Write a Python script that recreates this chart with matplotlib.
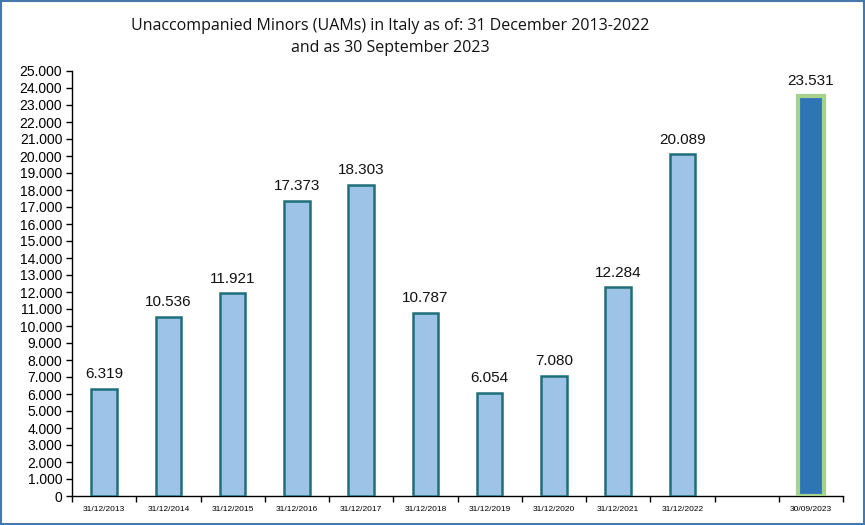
import matplotlib
matplotlib.use("Agg")
import matplotlib.pyplot as plt
from matplotlib.patches import Rectangle
from matplotlib.ticker import FuncFormatter, MultipleLocator
import numpy as np

categories = ["31/12/2013", "31/12/2014", "31/12/2015", "31/12/2016", "31/12/2017",
              "31/12/2018", "31/12/2019", "31/12/2020", "31/12/2021", "31/12/2022",
              "", "30/09/2023"]
values = [6319, 10536, 11921, 17373, 18303, 10787, 6054, 7080, 12284, 20089, None, 23531]
highlight = [False] * 11 + [True]
title = "Unaccompanied Minors (UAMs) in Italy as of: 31 December 2013-2022\nand as 30 September 2023"

def fmt_it(v, pos=None):
    return f"{int(round(v)):,}".replace(",", ".")

fig = plt.figure(figsize=(8.65, 5.25), dpi=100)
ax = fig.add_axes([72/865, 1-496/525, (843-72)/865, (496-71)/525])

x = np.arange(len(categories))
for xi, v, h in zip(x, values, highlight):
    if v is None:
        continue
    if h:
        ax.bar(xi, v, width=0.40, color="#2e75b6", edgecolor="#a9d18e", linewidth=3, zorder=3)
    else:
        ax.bar(xi, v, width=0.40, color="#9dc3e6", edgecolor="#1f6e78", linewidth=1.8, zorder=3)
    ax.text(xi, v + 450, fmt_it(v), ha="center", va="bottom", fontsize=11,
            family="Liberation Sans", color="#111111")

ax.set_xlim(-0.5, len(categories) - 0.5)
ax.set_ylim(0, 25000)
ax.yaxis.set_major_locator(MultipleLocator(1000))
ax.yaxis.set_major_formatter(FuncFormatter(fmt_it))
ax.set_xticks(x)
ax.set_xticklabels(categories, fontsize=6, family="Liberation Sans")
ax.tick_params(axis="x", length=0, pad=7)
ax.set_xticks(np.arange(-0.5, len(categories)), minor=True)
ax.tick_params(axis="x", which="minor", length=4, direction="out", width=1)
ax.tick_params(axis="y", length=4, direction="out", width=1, labelsize=10, pad=3)
for lab in ax.get_yticklabels():
    lab.set_family("Liberation Sans")
for s in ["top", "right"]:
    ax.spines[s].set_visible(False)
ax.spines["left"].set_linewidth(1)
ax.spines["bottom"].set_linewidth(1)

fig.text(390/865, 1-37/525, title, ha="center", va="center", fontsize=11.5,
         family="Open Sans", color="#111111", linespacing=1.45)

fig.patches.append(Rectangle((0.001, 0.001), 0.998, 0.997, transform=fig.transFigure,
                             fill=False, edgecolor="#4677ad", linewidth=1.5))

fig.savefig("out.png", dpi=100)
